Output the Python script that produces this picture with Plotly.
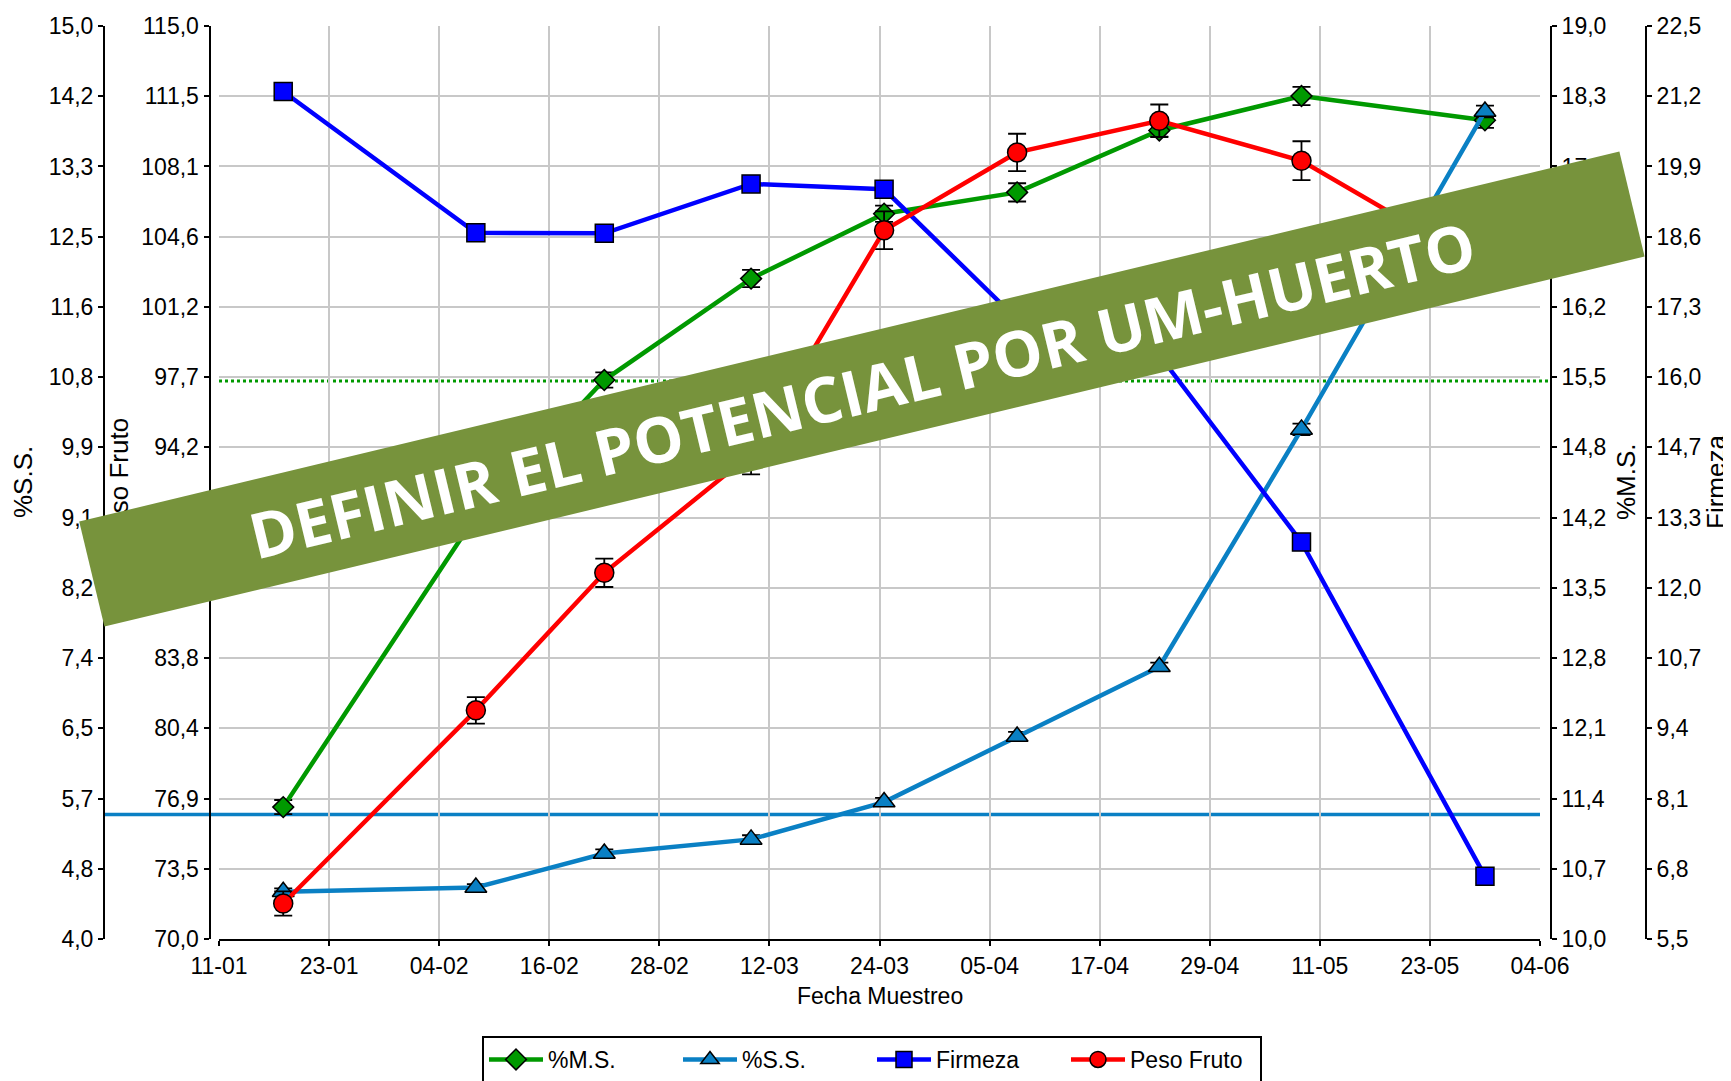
import numpy as np
import plotly.graph_objects as go

# ---------------- data ----------------
fechas = ["2023-01-18", "2023-02-08", "2023-02-22", "2023-03-10", "2023-03-24 12:00",
          "2023-04-08", "2023-04-23 12:00", "2023-05-09", "2023-05-29"]

ms = [11.30, 14.17, 15.51, 16.51, 17.15, 17.36, 17.97, 18.31, 18.07]
ms_err = [0.07, 0.07, 0.075, 0.085, 0.08, 0.09, 0.06, 0.09, 0.075]

ss = [4.57, 4.62, 5.03, 5.20, 5.65, 6.44, 7.28, 10.14, 13.97]
ss_err = [0.04, 0.04, 0.05, 0.05, 0.05, 0.055, 0.05, 0.07, 0.07]

firmeza = [21.28, 18.65, 18.64, 19.56, 19.46, 17.04, 16.37, 12.89, 6.67]
firmeza_err = [0.12, 0.12, 0.12, 0.12, 0.12, 0.12, 0.12, 0.12, 0.12]

peso = [71.75, 81.27, 88.05, 93.9, 104.93, 108.77, 110.33, 108.36, 103.1]
peso_err = [0.6, 0.65, 0.7, 1.0, 0.93, 0.92, 0.8, 0.96, 0.9]

ss_ref = 5.5
ms_ref = 15.5

rango_ms = [10.0, 19.0]
rango_ss = [4.0, 15.0]
rango_firmeza = [5.5, 22.5]
rango_peso = [70.0, 115.0]
rango_x = ["2023-01-11", "2023-06-04"]

banner_text = "DEFINIR EL POTENCIAL POR UM-HUERTO"

# ---------------- geometry (page pixel coordinates; body has 8px margin) ----------------
OFF = 8
W, H = 1731 - OFF, 1081 - OFF
PL, PR, PT, PB = 219, 1540, 26, 939   # plot area on the page


def px(x):
    return (x - OFF) / W


def py(y):
    return (PB - y) / (PB - PT)


def ticks(r):
    vals = np.linspace(r[0], r[1], 14)
    return list(vals), [f"{v:.1f}".replace(".", ",") for v in vals]


FONT = "Liberation Sans, Arial, sans-serif"
FS = 23
C_MS = "#009900"
C_SS = "#0A80C4"
C_FI = "#0000FF"
C_PE = "#FF0000"

fig = go.Figure()


def add(name, y, err, color, symbol, size, yaxis):
    fig.add_trace(go.Scatter(
        x=fechas, y=y, name=name, yaxis=yaxis, mode="lines+markers",
        line=dict(color=color, width=4.5),
        marker=dict(symbol=symbol, size=size, color=color,
                    line=dict(color="black", width=1.5)),
        error_y=dict(type="data", array=err, color="black", thickness=1.8, width=9),
    ))


add("%M.S.", ms, ms_err, C_MS, "diamond", 16, "y")
add("%S.S.", ss, ss_err, C_SS, "triangle-up", 19, "y2")
add("Firmeza", firmeza, firmeza_err, C_FI, "square", 18, "y3")
add("Peso Fruto", peso, peso_err, C_PE, "circle", 19, "y4")

axcommon = dict(showline=True, linecolor="black", linewidth=2, ticks="outside",
                ticklen=5, tickcolor="black", tickwidth=1.5, zeroline=False,
                tickfont=dict(family=FONT, size=FS, color="black"))

tv, tt = ticks(rango_ms)
yaxis = dict(range=rango_ms, tickvals=tv, ticktext=tt, anchor="free",
             position=px(1551), side="right", showgrid=True,
             gridcolor="#C8C8C8", gridwidth=1.5, **axcommon)
tv, tt = ticks(rango_ss)
yaxis2 = dict(range=rango_ss, tickvals=tv, ticktext=tt, anchor="free", overlaying="y",
              position=px(104), side="left", showgrid=False, **axcommon)
tv, tt = ticks(rango_firmeza)
yaxis3 = dict(range=rango_firmeza, tickvals=tv, ticktext=tt, anchor="free", overlaying="y",
              position=px(1646), side="right", showgrid=False, **axcommon)
tv, tt = ticks(rango_peso)
yaxis4 = dict(range=rango_peso, tickvals=tv, ticktext=tt, anchor="free", overlaying="y",
              position=px(209.5), side="left", showgrid=False, **axcommon)

xaxis = dict(domain=[px(PL), px(PR)], type="date", range=rango_x,
             tick0=rango_x[0], dtick=12 * 86400000, tickformat="%d-%m",
             showgrid=True, gridcolor="#C8C8C8", gridwidth=1.5, anchor="y",
             **axcommon)

shapes = [
    dict(type="line", xref="paper", yref="y2", x0=px(104), x1=px(PR),
         y0=ss_ref, y1=ss_ref, line=dict(color=C_SS, width=3.5), layer="below"),
    dict(type="line", xref="paper", yref="y", x0=px(PL), x1=px(1551),
         y0=ms_ref, y1=ms_ref, line=dict(color=C_MS, width=3, dash="dot"), layer="below"),
]

vtitle_font = dict(family=FONT, size=26, color="black")


def vtitle(text, x, y):
    return dict(text=text, x=px(x), y=py(y), xref="paper", yref="paper", textangle=-90,
                showarrow=False, font=vtitle_font, xanchor="center", yanchor="middle")


annotations = [
    vtitle("%S.S.", 23, 482),
    vtitle("Peso Fruto", 119, 482),
    vtitle("%M.S.", 1626, 482),
    vtitle("Firmeza", 1716, 482),
    dict(text="Fecha Muestreo", x=px(880), y=py(996), xref="paper", yref="paper",
         showarrow=False, font=dict(family=FONT, size=FS, color="black"),
         xanchor="center", yanchor="middle"),
    # banner: a rotated filled text box drawn last so it covers what lies beneath
    dict(text=banner_text, x=px(862.3), y=py(389.5), xref="paper", yref="paper",
         textangle=-13.51, showarrow=False, xanchor="center", yanchor="middle",
         width=1584, height=108, align="center", valign="middle",
         bgcolor="#77933C", borderpad=0, borderwidth=0,
         font=dict(family="Open Sans", size=63, color="white", weight=700)),
]

fig.update_layout(
    width=W, height=H,
    margin=dict(l=0, r=0, t=PT - OFF, b=H - (PB - OFF), autoexpand=False),
    paper_bgcolor="white", plot_bgcolor="rgba(0,0,0,0)",
    xaxis=xaxis, yaxis=yaxis, yaxis2=yaxis2, yaxis3=yaxis3, yaxis4=yaxis4,
    shapes=shapes, annotations=annotations,
    showlegend=True,
    legend=dict(orientation="h", x=px(482), y=py(1036), xanchor="left", yanchor="top",
                bordercolor="black", borderwidth=2, bgcolor="white",
                entrywidth=125, entrywidthmode="pixels", itemwidth=54,
                font=dict(family=FONT, size=FS, color="black")),
    font=dict(family=FONT, size=FS, color="black"),
)

fig.write_html("out.html")
